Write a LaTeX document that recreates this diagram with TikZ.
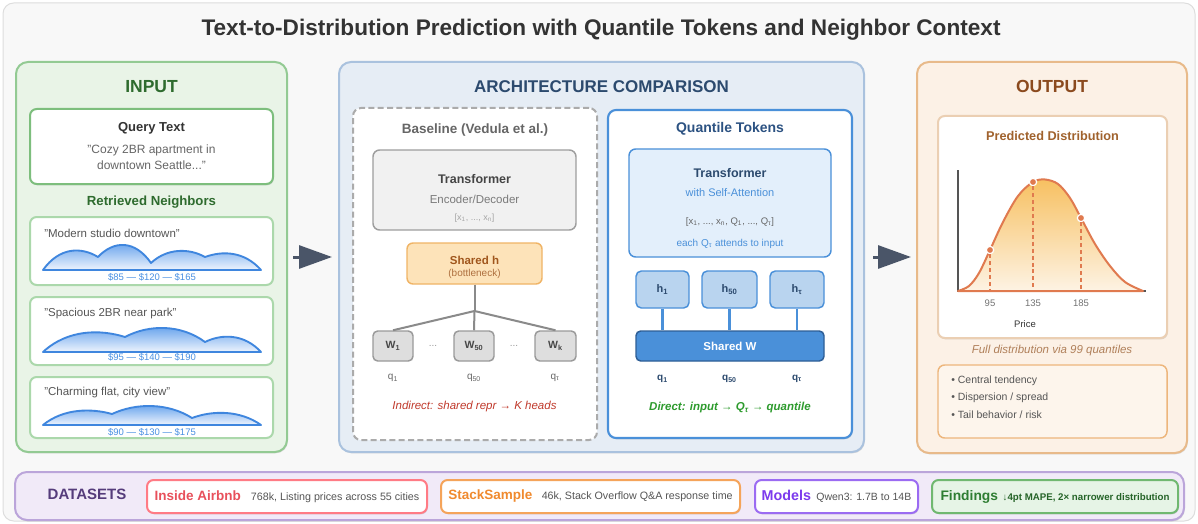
\documentclass[tikz,border=0pt]{standalone}
\usepackage{fontspec}
\setmainfont{Liberation Sans}
\usetikzlibrary{shadows,arrows.meta}

% font size given in screen pixels (1px = 0.75pt)
\newcommand\fpx[1]{\fontsize{\dimexpr #1pt*3/4\relax}{\dimexpr #1pt*9/8\relax}\selectfont}

\definecolor{bgfill}{HTML}{F8F8F8}
\definecolor{bgline}{HTML}{DDDDDD}
\definecolor{ingreenfill}{HTML}{E9F4E7}
\definecolor{ingreenline}{HTML}{93CA93}
\definecolor{ingreentx}{HTML}{2E6B2E}
\definecolor{qline}{HTML}{7DBE7D}
\definecolor{nbline}{HTML}{ABD8AB}
\definecolor{curveblue}{HTML}{3F86DE}
\definecolor{curvetop}{HTML}{5C9CEB}
\definecolor{curvebot}{HTML}{EEF4FD}
\definecolor{pricetx}{HTML}{4A90E2}
\definecolor{darktx}{HTML}{333333}
\definecolor{midtx}{HTML}{666666}
\definecolor{arrowc}{HTML}{4A5568}
\definecolor{archfill}{HTML}{E6EDF5}
\definecolor{archline}{HTML}{AAC2DE}
\definecolor{archtx}{HTML}{2C4A6E}
\definecolor{dashc}{HTML}{ABABAB}
\definecolor{trfill}{HTML}{F1F1F1}
\definecolor{trline}{HTML}{9E9E9E}
\definecolor{shfill}{HTML}{FDE3B9}
\definecolor{shline}{HTML}{F0B466}
\definecolor{shtx}{HTML}{A0561C}
\definecolor{wfill}{HTML}{DEDEDE}
\definecolor{wline}{HTML}{9A9A9A}
\definecolor{connc}{HTML}{8A8A8A}
\definecolor{indirc}{HTML}{C0392B}
\definecolor{qtline}{HTML}{4A90D9}
\definecolor{qttx}{HTML}{2C5282}
\definecolor{qtrfill}{HTML}{E3EFFB}
\definecolor{hfill}{HTML}{B9D4EF}
\definecolor{swline}{HTML}{2E5E96}
\definecolor{directc}{HTML}{2E9B2E}
\definecolor{outfill}{HTML}{FCF1E6}
\definecolor{outline}{HTML}{E8BA8A}
\definecolor{outtx}{HTML}{8B4A1E}
\definecolor{chartline}{HTML}{EBCFB3}
\definecolor{predtx}{HTML}{A0622D}
\definecolor{orangec}{HTML}{E07A4F}
\definecolor{disttop}{HTML}{F7C061}
\definecolor{distbot}{HTML}{FDF3E4}
\definecolor{axisc}{HTML}{555555}
\definecolor{fulltx}{HTML}{B0805A}
\definecolor{bulfill}{HTML}{FDF5EC}
\definecolor{bulline}{HTML}{EDB67C}
\definecolor{dsfill}{HTML}{F1EAF8}
\definecolor{dsline}{HTML}{BBA5DA}
\definecolor{dstx}{HTML}{553C7B}
\definecolor{airline}{HTML}{FF7B85}
\definecolor{airtx}{HTML}{E8505B}
\definecolor{stline}{HTML}{F5A45A}
\definecolor{sttx}{HTML}{F08A2E}
\definecolor{modline}{HTML}{9B6BF2}
\definecolor{modtx}{HTML}{7C3AED}
\definecolor{findfill}{HTML}{E6F4E6}
\definecolor{findline}{HTML}{70B870}
\definecolor{findtx}{HTML}{2E7D32}
\definecolor{desctx}{HTML}{555555}

\tikzset{
  sz/.style 2 args={minimum width=#1*0.75pt, minimum height=#2*0.75pt, inner sep=0pt},
  txt/.style={inner sep=0pt, align=center},
  softshadow/.style={drop shadow={shadow xshift=0.6pt, shadow yshift=-1pt, opacity=0.12, fill=black}},
  panel/.style={rounded corners=9pt, line width=1.5pt, softshadow},
  card/.style={rounded corners=5pt, fill=white, line width=1.5pt},
  smallbox/.style={rounded corners=3.5pt, line width=1.1pt},
  bigarrow/.style={draw=arrowc, line width=2.25pt,
    -{Triangle[length=24.75pt, width=17.25pt]}},
  qdot/.style={circle, inner sep=0pt, minimum size=5.5pt, fill=orangec, draw=white, line width=0.9pt},
  dsbox/.style={rounded corners=5pt, fill=white, line width=1.5pt, inner sep=0pt, softshadow},
}

\begin{document}
\begin{tikzpicture}[x=0.75pt, y=-0.75pt]
\useasboundingbox (0,0) rectangle (1198,524);

% page background and title
\draw[fill=bgfill, draw=bgline, line width=0.75pt, rounded corners=8pt] (3,3) rectangle (1195,521);
\node[txt, text=darktx, font=\fpx{22.6}\bfseries] (title) at (601,30)
  {Text-to-Distribution Prediction with Quantile Tokens and Neighbor Context};

% ---------------- input panel ----------------
\node[panel, fill=ingreenfill, draw=ingreenline, sz={271}{390}] (inp) at (151.5,257) {};
\node[txt, text=ingreentx, font=\fpx{17.5}\bfseries] (inptitle) at (151.5,87) {INPUT};

\node[card, draw=qline, sz={243}{75}, softshadow] (query) at (151.5,146.5) {};
\node[txt, text=darktx, font=\fpx{13}\bfseries] (querytitle) at (151.5,128) {Query Text};
\node[txt, text=midtx, font=\fpx{12}] (querytext) at (151.5,157.5)
  {"Cozy 2BR apartment in\\[-1.5pt] downtown Seattle..."};

\node[txt, text=ingreentx, font=\fpx{13.2}\bfseries] (nbtitle) at (151.5,202) {Retrieved Neighbors};

\node[card, draw=nbline, sz={243}{68}] (nb1) at (151.5,251) {};
\node[card, draw=nbline, sz={243}{68}] (nb2) at (151.5,331) {};
\node[card, draw=nbline, sz={243}{61}] (nb3) at (151.5,407.5) {};

\node[txt, anchor=west, text=desctx, font=\fpx{11.5}] (nb1text) at (44,233) {"Modern studio downtown"};
\node[txt, anchor=west, text=desctx, font=\fpx{11.5}] (nb2text) at (44,314) {"Spacious 2BR near park"};
\node[txt, anchor=west, text=desctx, font=\fpx{11.5}] (nb3text) at (44,393) {"Charming flat, city view"};

% multi-modal price curves of the neighbours
\path[top color=curvetop, bottom color=curvebot, draw=curveblue, line width=1.4pt, line join=round]
  (43,270) .. controls (59.5,246.8) and (81.5,246.8) .. (98,257)
  .. controls (114,240) and (135,240) .. (151,263)
  .. controls (167,248) and (189,248) .. (205,257)
  .. controls (222,250.8) and (244,250.8) .. (261,270) -- cycle;
\path[top color=curvetop, bottom color=curvebot, draw=curveblue, line width=1.4pt, line join=round]
  (43,352) .. controls (67.6,329.2) and (100.4,329.2) .. (125,337)
  .. controls (149,324.2) and (181,324.2) .. (205,342)
  .. controls (221.8,333.7) and (244.2,333.7) .. (261,352) -- cycle;
\path[top color=curvetop, bottom color=curvebot, draw=curveblue, line width=1.4pt, line join=round]
  (43,425) .. controls (63.7,408.2) and (91.3,408.2) .. (112,414)
  .. controls (136,402.7) and (168,402.7) .. (192,418)
  .. controls (212.7,410.2) and (240.3,410.2) .. (261,425) -- cycle;

\node[txt, text=pricetx, font=\fpx{9.5}] (nb1price) at (152,277.5) {\$85 — \$120 — \$165};
\node[txt, text=pricetx, font=\fpx{9.5}] (nb2price) at (152,357.5) {\$95 — \$140 — \$190};
\node[txt, text=pricetx, font=\fpx{9.5}] (nb3price) at (152,432) {\$90 — \$130 — \$175};

% ---------------- architecture panel ----------------
\node[panel, fill=archfill, draw=archline, sz={525}{390}] (arch) at (601.5,257) {};
\node[txt, text=archtx, font=\fpx{17}\bfseries] (archtitle) at (601.5,87) {ARCHITECTURE COMPARISON};

% baseline
\node[rounded corners=6pt, fill=white, draw=dashc, line width=1.5pt, dash pattern=on 4.5pt off 2.5pt, sz={244}{332}] (base) at (475,274) {};
\node[txt, text=midtx, font=\fpx{13.5}\bfseries] (basetitle) at (475,130) {Baseline (Vedula et al.)};

\node[smallbox, rounded corners=5pt, fill=trfill, draw=trline, sz={203}{80}] (tr1) at (474.5,190) {};
\node[txt, text=black!73, font=\fpx{12.5}\bfseries] (tr1a) at (474.5,179) {Transformer};
\node[txt, text=black!52, font=\fpx{11.5}] (tr1b) at (474.5,199) {Encoder/Decoder};
\node[txt, text=black!35, font=\fpx{9}] (tr1c) at (474.5,218) {[x\textsubscript{1}, ..., x\textsubscript{n}]};

\node[smallbox, rounded corners=4.5pt, fill=shfill, draw=shline, sz={135}{41}] (sh) at (474.5,263.5) {};
\node[txt, text=shtx, font=\fpx{11.5}\bfseries] (sha) at (474.5,260) {Shared h};
\node[txt, text=shtx!85, font=\fpx{10}] (shb) at (474.5,274) {(bottleneck)};

\node[smallbox, fill=wfill, draw=wline, sz={40}{30}, text=black!72, font=\fpx{10.5}\bfseries] (w1) at (393,346) {W\textsubscript{1}};
\node[smallbox, fill=wfill, draw=wline, sz={40}{30}, text=black!72, font=\fpx{10.5}\bfseries] (w50) at (474,346) {W\textsubscript{50}};
\node[smallbox, fill=wfill, draw=wline, sz={41}{30}, text=black!72, font=\fpx{10.5}\bfseries] (wk) at (555.5,346) {W\textsubscript{k}};
\node[txt, text=black!40, font=\fpx{10}] (dots1) at (433,346) {...};
\node[txt, text=black!40, font=\fpx{10}] (dots2) at (514,346) {...};

\coordinate (jn) at (474.5,311);
\draw[connc, line width=1.5pt] (sh.south) -- (jn);
\draw[connc, line width=1.5pt] (jn) -- (w1.north);
\draw[connc, line width=1.5pt] (jn) -- (w50.north);
\draw[connc, line width=1.5pt] (jn) -- (wk.north);

\node[txt, text=midtx, font=\fpx{10}] (bq1) at (393,378) {q\textsubscript{1}};
\node[txt, text=midtx, font=\fpx{10}] (bq50) at (474,378) {q\textsubscript{50}};
\node[txt, text=midtx, font=\fpx{10}] (bqt) at (555,378) {q\textsubscript{τ}};
\node[txt, text=indirc, font=\fpx{11.5}\itshape] (indirect) at (474.5,407) {Indirect: shared repr → K heads};

% quantile tokens
\node[rounded corners=6pt, fill=white, draw=qtline, line width=1.6pt, sz={244}{328}, softshadow] (qt) at (730,274) {};
\node[txt, text=qttx, font=\fpx{14}\bfseries] (qttitle) at (730,129) {Quantile Tokens};

\node[smallbox, rounded corners=5pt, fill=qtrfill, draw=qtline, sz={202}{108}] (tr2) at (730,203) {};
\node[txt, text=archtx, font=\fpx{12.5}\bfseries] (tr2a) at (730,173) {Transformer};
\node[txt, text=qtline, font=\fpx{11}] (tr2b) at (730,193) {with Self-Attention};
\node[txt, text=midtx, font=\fpx{9.5}] (tr2c) at (730,222) {[x\textsubscript{1}, ..., x\textsubscript{n}, Q\textsubscript{1}, ..., Q\textsubscript{τ}]};
\node[txt, text=qtline, font=\fpx{10}] (tr2d) at (730,244) {each Q\textsubscript{τ} attends to input};

\node[smallbox, rounded corners=4pt, fill=hfill, draw=qtline, sz={53}{37}, text=archtx, font=\fpx{11}\bfseries] (h1) at (662.5,289.5) {h\textsubscript{1}};
\node[smallbox, rounded corners=4pt, fill=hfill, draw=qtline, sz={55}{37}, text=archtx, font=\fpx{11}\bfseries] (h50) at (729.5,289.5) {h\textsubscript{50}};
\node[smallbox, rounded corners=4pt, fill=hfill, draw=qtline, sz={54}{37}, text=archtx, font=\fpx{11}\bfseries] (ht) at (797,289.5) {h\textsubscript{τ}};

\node[smallbox, fill=qtline, draw=swline, sz={188}{30}, text=white, font=\fpx{11.5}\bfseries] (sw) at (730,346) {Shared W};

\draw[qtline, line width=2.2pt] (h1.south) -- (h1.south |- sw.north);
\draw[qtline, line width=2.2pt] (h50.south) -- (h50.south |- sw.north);
\draw[qtline, line width=2.2pt] (ht.south) -- (ht.south |- sw.north);

\node[txt, text=archtx, font=\fpx{10}\bfseries] (qq1) at (662.5,379) {q\textsubscript{1}};
\node[txt, text=archtx, font=\fpx{10}\bfseries] (qq50) at (729.5,379) {q\textsubscript{50}};
\node[txt, text=archtx, font=\fpx{10}\bfseries] (qqt) at (797,379) {q\textsubscript{τ}};
\node[txt, text=directc, font=\fpx{11.5}\bfseries\itshape] (direct) at (730,408) {Direct: input → Q\textsubscript{τ} → quantile};

% ---------------- output panel ----------------
\node[panel, fill=outfill, draw=outline, sz={270}{391}] (out) at (1052,257.5) {};
\node[txt, text=outtx, font=\fpx{17.5}\bfseries] (outtitle) at (1052,86) {OUTPUT};

\node[card, draw=chartline, sz={229}{222}, softshadow] (chart) at (1052.5,227) {};
\node[txt, text=predtx, font=\fpx{12.7}\bfseries] (predtitle) at (1052.5,136) {Predicted Distribution};

% density plot
\draw[axisc, line width=1.5pt] (958,170) -- (958,291) -- (1146,291);
\path[top color=disttop, bottom color=distbot, draw=orangec, line width=1.5pt, line join=round]
  plot[smooth, tension=0.55] coordinates {(958,291) (969,286) (979,273) (990,250) (1003,222)
   (1018,196) (1033,182) (1045,179.5) (1058,184) (1070,198) (1081,218) (1095,244)
   (1110,266) (1125,282) (1143,291)} -- cycle;
\node[qdot] (p95) at (990,250) {};
\node[qdot] (p135) at (1033,182) {};
\node[qdot] (p185) at (1081,218) {};
\coordinate (a95) at (990,291);
\coordinate (a135) at (1033,291);
\coordinate (a185) at (1081,291);
\draw[orangec, line width=1.3pt, dash pattern=on 3pt off 2.2pt] (p95) -- (a95);
\draw[orangec, line width=1.3pt, dash pattern=on 3pt off 2.2pt] (p135) -- (a135);
\draw[orangec, line width=1.3pt, dash pattern=on 3pt off 2.2pt] (p185) -- (a185);
\node[txt, text=black!55, font=\fpx{9.5}] (t95) at (990,303.5) {95};
\node[txt, text=black!55, font=\fpx{9.5}] (t135) at (1033,303.5) {135};
\node[txt, text=black!55, font=\fpx{9.5}] (t185) at (1081,303.5) {185};
\node[txt, text=darktx, font=\fpx{9.5}] (price) at (1025,324) {Price};

\node[txt, text=fulltx, font=\fpx{11.5}\itshape] (full) at (1052,351) {Full distribution via 99 quantiles};

\node[rounded corners=5pt, fill=bulfill, draw=bulline, line width=1.1pt, sz={229}{73}] (bul) at (1052.5,401.5) {};
\node[txt, anchor=west, text=desctx, font=\fpx{10.5}] (b1) at (951,380.5) {• Central tendency};
\node[txt, anchor=west, text=desctx, font=\fpx{10.5}] (b2) at (951,397.5) {• Dispersion / spread};
\node[txt, anchor=west, text=desctx, font=\fpx{10.5}] (b3) at (951,415) {• Tail behavior / risk};

% ---------------- flow arrows ----------------
\draw[bigarrow] ([xshift=3.75pt]inp.east |- 0,257) -- ([xshift=-4.5pt]arch.west |- 0,257);
\draw[bigarrow] ([xshift=6pt]arch.east |- 0,257) -- ([xshift=-3.75pt]out.west |- 0,257);

% ---------------- datasets bar ----------------
\node[panel, fill=dsfill, draw=dsline, sz={1169}{48}] (ds) at (599.5,496) {};
\node[txt, text=dstx, font=\fpx{15}\bfseries] (dstitle) at (87,494) {DATASETS};

\node[dsbox, draw=airline, sz={280}{33}] (ds1) at (287,496.5)
  {{\fpx{13.5}\bfseries\color{airtx}Inside Airbnb}\hspace{7.5pt}{\fpx{10.7}\color{desctx}768k, Listing prices across 55 cities}};
\node[dsbox, draw=stline, sz={299}{33}] (ds2) at (590.5,496.5)
  {{\fpx{13.5}\bfseries\color{sttx}StackSample}\hspace{7pt}{\fpx{10.7}\color{desctx}46k, Stack Overflow Q\&A response time}};
\node[dsbox, draw=modline, sz={163}{33}] (ds3) at (836.5,496.5)
  {{\fpx{14.3}\bfseries\color{modtx}Models}\hspace{4pt}{\fpx{10.5}\color{desctx}Qwen3: 1.7B to 14B}};
\node[dsbox, fill=findfill, draw=findline, sz={246}{33}] (ds4) at (1055,496.5)
  {{\fpx{13.8}\bfseries\color{findtx}Findings}\hspace{3.5pt}{\fpx{9.7}\bfseries\color{findtx!80!black}↓4pt MAPE, 2× narrower distribution}};

\end{tikzpicture}
\end{document}
